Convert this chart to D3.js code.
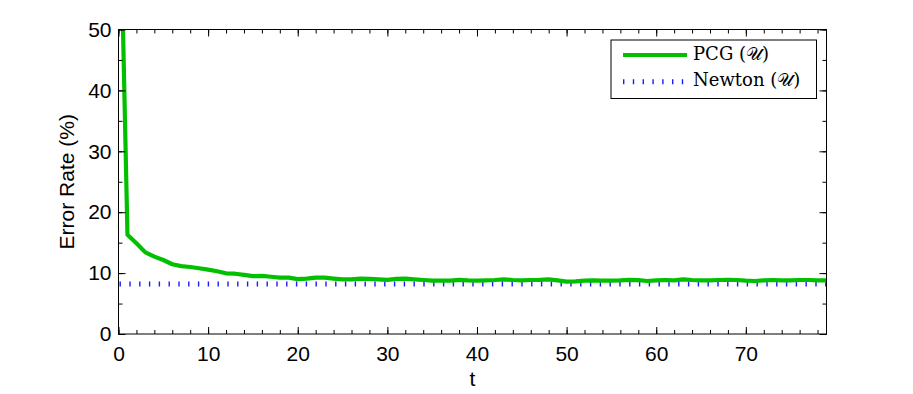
<!DOCTYPE html>
<html>
<head>
<meta charset="utf-8">
<script src="https://cdn.jsdelivr.net/npm/d3@7"></script>
<style>
  body { margin: 0; background: #fff; }
  svg { display: block; }
</style>
</head>
<body>
<div id="wrapper"></div>
<script>
// error rate of PCG per iteration t = 0..79 (first point is above the top of the axes)
const pcgError = [
    84, 16.3, 14.9, 13.4, 12.7, 12.15, 11.45, 11.15, 11.0, 10.8,
    10.56, 10.3, 9.97, 9.9, 9.7, 9.5, 9.55, 9.4, 9.25, 9.25,
    9.0, 9.1, 9.25, 9.25, 9.1, 8.98, 8.98, 9.1, 9.05, 8.98,
    8.9, 9.05, 9.1, 8.98, 8.87, 8.76, 8.76, 8.76, 8.88, 8.8,
    8.76, 8.8, 8.87, 8.98, 8.87, 8.8, 8.87, 8.9, 8.98, 8.8,
    8.6, 8.65, 8.76, 8.8, 8.76, 8.76, 8.8, 8.9, 8.84, 8.7,
    8.8, 8.87, 8.8, 8.98, 8.87, 8.8, 8.8, 8.87, 8.9, 8.87,
    8.76, 8.7, 8.8, 8.87, 8.8, 8.8, 8.87, 8.87, 8.8, 8.8
]
const newtonError = 8.2
const legendLabels = ["PCG (\u{1D4B0})", "Newton (\u{1D4B0})"]
const xTicks = [0, 10, 20, 30, 40, 50, 60, 70]
const yTicks = [0, 10, 20, 30, 40, 50]

function drawChart() {
    let dimensions = {
        width: 913,
        height: 394,
        margin: { top: 29.5, right: 86.5, bottom: 60, left: 118.5 },
    }
    dimensions.boundedWidth = dimensions.width - dimensions.margin.left - dimensions.margin.right
    dimensions.boundedHeight = dimensions.height - dimensions.margin.top - dimensions.margin.bottom

    const svg = d3.select("#wrapper").append("svg")
        .attr("width", dimensions.width)
        .attr("height", dimensions.height)

    const bounds = svg.append("g")
        .attr("transform", `translate(${dimensions.margin.left},${dimensions.margin.top})`)

    const xScale = d3.scaleLinear()
        .domain([0, pcgError.length - 1])
        .range([0, dimensions.boundedWidth])
    const yScale = d3.scaleLinear()
        .domain([0, 50])
        .range([dimensions.boundedHeight, 0])

    svg.append("defs").append("clipPath").attr("id", "plotClip")
        .append("rect")
        .attr("width", dimensions.boundedWidth)
        .attr("height", dimensions.boundedHeight)

    const plot = bounds.append("g").attr("clip-path", "url(#plotClip)")

    // Newton reference (dotted)
    plot.append("line")
        .attr("x1", xScale(0) + 1)
        .attr("x2", xScale(pcgError.length - 1))
        .attr("y1", yScale(newtonError))
        .attr("y2", yScale(newtonError))
        .attr("stroke", "#1a1aff")
        .attr("stroke-width", 5)
        .attr("stroke-dasharray", "1.4,8.4")

    const line = d3.line()
        .x((d, i) => xScale(i))
        .y(d => yScale(d))

    plot.append("path")
        .datum(pcgError)
        .attr("d", line)
        .attr("fill", "none")
        .attr("stroke", "#00c000")
        .attr("stroke-width", 4.2)
        .attr("stroke-linejoin", "round")

    // axes with inward ticks, matlab style box
    const minorX = d3.range(0, 80, 2)
    const minorY = d3.range(0, 51, 5)
    const tickStyle = g => {
        g.select(".domain").remove()
        g.selectAll("line").attr("stroke", "#000").attr("stroke-width", 1)
    }

    const axisFont = g => g.selectAll("text")
        .style("font-family", "'Liberation Sans', Arial, sans-serif")
        .style("font-size", "21px")
        .attr("fill", "#000")

    // bottom
    bounds.append("g")
        .attr("transform", `translate(0,${dimensions.boundedHeight})`)
        .call(d3.axisBottom(xScale).tickValues(minorX).tickSize(-4).tickFormat(""))
        .call(tickStyle)
    bounds.append("g")
        .attr("transform", `translate(0,${dimensions.boundedHeight})`)
        .call(d3.axisBottom(xScale).tickValues(xTicks).tickSize(-7).tickPadding(12.5).tickFormat(d3.format("d")))
        .call(tickStyle)
        .call(axisFont)
    // top
    bounds.append("g")
        .call(d3.axisTop(xScale).tickValues(minorX).tickSize(-4).tickFormat(""))
        .call(tickStyle)
    bounds.append("g")
        .call(d3.axisTop(xScale).tickValues(xTicks).tickSize(-7).tickFormat(""))
        .call(tickStyle)
    // left
    bounds.append("g")
        .call(d3.axisLeft(yScale).tickValues(minorY).tickSize(-4).tickFormat(""))
        .call(tickStyle)
    bounds.append("g")
        .call(d3.axisLeft(yScale).tickValues(yTicks).tickSize(-7).tickPadding(7).tickFormat(d3.format("d")))
        .call(tickStyle)
        .call(axisFont)
    // right
    bounds.append("g")
        .attr("transform", `translate(${dimensions.boundedWidth},0)`)
        .call(d3.axisRight(yScale).tickValues(minorY).tickSize(-4).tickFormat(""))
        .call(tickStyle)
    bounds.append("g")
        .attr("transform", `translate(${dimensions.boundedWidth},0)`)
        .call(d3.axisRight(yScale).tickValues(yTicks).tickSize(-7).tickFormat(""))
        .call(tickStyle)

    bounds.append("rect")
        .attr("width", dimensions.boundedWidth)
        .attr("height", dimensions.boundedHeight)
        .attr("fill", "none")
        .attr("stroke", "#000")
        .attr("stroke-width", 1)

    // axis labels
    bounds.append("text")
        .attr("x", dimensions.boundedWidth / 2)
        .attr("y", dimensions.boundedHeight + 52)
        .attr("text-anchor", "middle")
        .style("font-family", "'Liberation Sans', Arial, sans-serif")
        .style("font-size", "21px")
        .text("t")

    bounds.append("text")
        .attr("transform", `translate(-44.5,${dimensions.boundedHeight / 2}) rotate(-90)`)
        .attr("text-anchor", "middle")
        .style("font-family", "'Liberation Sans', Arial, sans-serif")
        .style("font-size", "21px")
        .text("Error Rate (%)")

    // legend
    const legend = svg.append("g").attr("transform", "translate(611,40)")
    legend.append("rect")
        .attr("width", 205.5)
        .attr("height", 58.5)
        .attr("fill", "#fff")
        .attr("stroke", "#000")
        .attr("stroke-width", 1)
    const legendRows = [
        { label: legendLabels[0], color: "#00c000", width: 4.2, dash: null },
        { label: legendLabels[1], color: "#1a1aff", width: 5, dash: "1.4,8.4" },
    ]
    legendRows.forEach((row, i) => {
        const y = 15 + i * 26.7
        legend.append("line")
            .attr("x1", 12).attr("x2", 76)
            .attr("y1", y).attr("y2", y)
            .attr("stroke", row.color)
            .attr("stroke-width", row.width)
            .attr("stroke-dasharray", row.dash)
        legend.append("text")
            .attr("x", 82)
            .attr("y", y + 4.5)
            .style("font-family", "'DejaVu Serif', 'Liberation Serif', serif")
            .style("font-size", "18px")
            .text(row.label)
    })
}

drawChart()
</script>
</body>
</html>
